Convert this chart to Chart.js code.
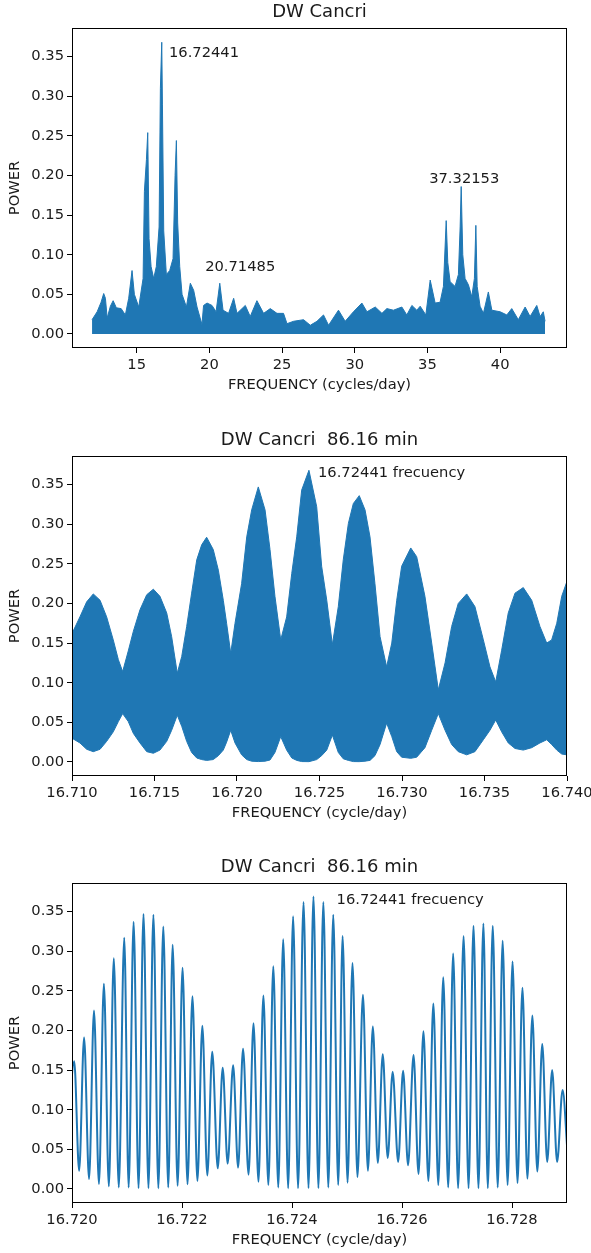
<!DOCTYPE html>
<html lang="en">
<head>
  <meta charset="UTF-8" />
  <title>DW Cancri - periodogram</title>
  <script src="https://cdn.jsdelivr.net/npm/chart.js"></script>
  <style>
    body {
      margin: 0;
      background: #fff;
    }

    canvas {
      display: block;
    }

    #wideChart {
      margin-top: 30px;
    }

    #zoomChart {
      margin-top: 29px;
    }
  </style>
</head>
<body>

  <canvas id="fullChart" width="591" height="398"></canvas>
  <canvas id="wideChart" width="591" height="398"></canvas>
  <canvas id="zoomChart" width="591" height="398"></canvas>

  <script>
    // ---- full periodogram, 12-43 cycles/day (upper envelope of power) ----
    const fullFreq = [11.93, 12.28, 12.55, 12.73, 12.85, 12.97, 13.19, 13.38, 13.60, 13.93,
      14.22, 14.45, 14.68, 14.84, 15.14, 15.44, 15.53, 15.67, 15.76, 15.85,
      15.99, 16.17, 16.35, 16.54, 16.63, 16.72441, 16.77, 16.86, 17.04, 17.27,
      17.50, 17.64, 17.73, 17.82, 17.96, 18.12, 18.42, 18.69, 18.92, 19.15,
      19.49, 19.60, 19.84, 20.18, 20.46, 20.71485, 20.94, 21.32, 21.67, 21.90,
      22.47, 22.81, 23.27, 23.73, 24.19, 24.65, 25.10, 25.34, 25.79, 26.48,
      26.94, 27.40, 27.85, 28.20, 28.88, 29.34, 29.91, 30.49, 30.84, 31.41,
      31.87, 32.21, 32.66, 33.24, 33.58, 33.93, 34.27, 34.50, 34.89, 35.19,
      35.53, 35.87, 36.10, 36.29, 36.40, 36.56, 36.90, 37.13, 37.25, 37.32153,
      37.43, 37.59, 37.82, 38.05, 38.23, 38.33, 38.42, 38.62, 38.85, 39.19,
      39.43, 40.00, 40.46, 40.80, 41.25, 41.72, 42.06, 42.52, 42.75, 42.97, 43.09];
    const fullPower = [0.018, 0.028, 0.040, 0.051, 0.045, 0.020, 0.035, 0.042, 0.033, 0.032,
      0.024, 0.045, 0.080, 0.050, 0.034, 0.070, 0.180, 0.220, 0.254, 0.120,
      0.085, 0.070, 0.085, 0.135, 0.310, 0.368, 0.290, 0.130, 0.075, 0.080,
      0.095, 0.200, 0.244, 0.140, 0.085, 0.050, 0.034, 0.064, 0.055, 0.034,
      0.012, 0.036, 0.039, 0.036, 0.028, 0.064, 0.030, 0.026, 0.045, 0.026,
      0.036, 0.022, 0.042, 0.026, 0.032, 0.026, 0.026, 0.013, 0.016, 0.018,
      0.011, 0.016, 0.024, 0.011, 0.030, 0.016, 0.028, 0.039, 0.028, 0.034,
      0.026, 0.032, 0.030, 0.034, 0.024, 0.036, 0.030, 0.035, 0.024, 0.068,
      0.039, 0.040, 0.060, 0.143, 0.090, 0.066, 0.060, 0.075, 0.135, 0.186,
      0.100, 0.070, 0.062, 0.047, 0.070, 0.137, 0.060, 0.035, 0.026, 0.053,
      0.030, 0.028, 0.024, 0.032, 0.018, 0.034, 0.022, 0.036, 0.022, 0.028, 0.016];
    const fullTicks = [15, 20, 25, 30, 35, 40];
    const fullNoteText = ['16.72441', '20.71485', '37.32153'];
    const fullNoteFreq = [17.22, 19.71, 35.12];
    const fullNotePower = [0.35, 0.08, 0.19];

    // ---- 16.710-16.740 window: upper and lower envelope of the fast oscillation ----
    const wideFreq = [16.7100, 16.71048, 16.71089, 16.71129, 16.71170, 16.71210, 16.71250, 16.71281, 16.71307,
      16.71341, 16.71372, 16.71412, 16.71453, 16.71493, 16.71533, 16.71574, 16.71604, 16.71638,
      16.71665, 16.71695, 16.71725, 16.71756, 16.71786, 16.71816, 16.71856, 16.71887, 16.71917, 16.71937, 16.71962,
      16.71988, 16.72028, 16.72059, 16.72089, 16.72129, 16.72170, 16.72200, 16.72230, 16.72265,
      16.72301, 16.72332, 16.72362, 16.72392, 16.72436, 16.72483, 16.72513, 16.72544, 16.72578,
      16.72614, 16.72644, 16.72675, 16.72705, 16.72741, 16.72776, 16.72806, 16.72836, 16.72867, 16.72907,
      16.72938, 16.72968, 16.72998, 16.73053, 16.73089, 16.73139, 16.73180, 16.73220,
      16.73261, 16.73301, 16.73341, 16.73392, 16.73442, 16.73493, 16.73533, 16.73568,
      16.73604, 16.73644, 16.73685, 16.73735, 16.73786, 16.73836, 16.73877, 16.73907, 16.73938, 16.73968, 16.74000];
    const wideUpper = [0.162, 0.183, 0.202, 0.212, 0.204, 0.183, 0.154, 0.129, 0.114,
      0.140, 0.165, 0.192, 0.211, 0.218, 0.209, 0.188, 0.158, 0.112,
      0.133, 0.171, 0.213, 0.255, 0.274, 0.2835, 0.268, 0.242, 0.204, 0.175, 0.137,
      0.175, 0.225, 0.284, 0.318, 0.347, 0.318, 0.268, 0.209, 0.154,
      0.183, 0.238, 0.284, 0.343, 0.368, 0.322, 0.247, 0.204, 0.148,
      0.196, 0.255, 0.301, 0.326, 0.336, 0.318, 0.284, 0.225, 0.158, 0.120,
      0.150, 0.204, 0.247, 0.270, 0.259, 0.209, 0.150, 0.091,
      0.125, 0.171, 0.200, 0.212, 0.196, 0.154, 0.120, 0.101,
      0.141, 0.188, 0.213, 0.220, 0.204, 0.171, 0.150, 0.154, 0.175, 0.209, 0.228];
    const wideLower = [0.030, 0.024, 0.016, 0.013, 0.016, 0.026, 0.038, 0.051, 0.061,
      0.051, 0.036, 0.024, 0.013, 0.011, 0.015, 0.026, 0.040, 0.059,
      0.045, 0.026, 0.012, 0.005, 0.003, 0.002, 0.003, 0.008, 0.015, 0.025, 0.040,
      0.024, 0.009, 0.003, 0.001, 0.0005, 0.001, 0.0025, 0.012, 0.032,
      0.015, 0.005, 0.002, 0.0005, 0.0004, 0.003, 0.008, 0.015, 0.034,
      0.012, 0.004, 0.002, 0.0005, 0.0004, 0.001, 0.002, 0.008, 0.022, 0.049,
      0.032, 0.013, 0.006, 0.0046, 0.006, 0.018, 0.040, 0.061,
      0.040, 0.022, 0.013, 0.009, 0.013, 0.028, 0.040, 0.053,
      0.038, 0.024, 0.017, 0.015, 0.018, 0.024, 0.028, 0.022, 0.015, 0.010, 0.009];
    const wideTicks = [16.710, 16.715, 16.720, 16.725, 16.730, 16.735, 16.740];

    // ---- 16.720-16.729 window: successive maxima and minima of the oscillation ----
    const zoomFreq = [16.71991,
      16.72004, 16.72013, 16.72022, 16.72031, 16.72040, 16.72049, 16.72058, 16.72067, 16.72076, 16.72085,
      16.72095, 16.72103, 16.72112, 16.72121, 16.72130, 16.72139, 16.72148, 16.72157, 16.72166, 16.72175,
      16.72183, 16.72192, 16.72201, 16.72210, 16.72219, 16.72228, 16.72237, 16.72246, 16.72255, 16.72265,
      16.72274, 16.72283, 16.72293, 16.72302, 16.72311, 16.72321, 16.72330, 16.72339, 16.72348, 16.72357,
      16.72366, 16.72375, 16.72384, 16.72393, 16.72402, 16.72411, 16.72421, 16.72430, 16.72439, 16.72448,
      16.72457, 16.72466, 16.72475, 16.72484, 16.72492, 16.72501, 16.72510, 16.72519, 16.72529, 16.72538,
      16.72547, 16.72556, 16.72565, 16.72574, 16.72583, 16.72593, 16.72602, 16.72611, 16.72621, 16.72630,
      16.72639, 16.72648, 16.72657, 16.72666, 16.72675, 16.72684, 16.72693, 16.72702, 16.72712, 16.72721,
      16.72730, 16.72739, 16.72748, 16.72756, 16.72765, 16.72774, 16.72783, 16.72792, 16.72801, 16.72810,
      16.72819, 16.72828, 16.72837, 16.72846, 16.72855, 16.72864, 16.72873, 16.72882, 16.72892, 16.72901];
    const zoomPower = [0.045,
      0.161, 0.023, 0.191, 0.0126, 0.225, 0.0063, 0.259, 0.0034, 0.291, 0.002,
      0.317, 0.002, 0.337, 0.001, 0.347, 0.001, 0.346, 0.001, 0.331, 0.002,
      0.308, 0.004, 0.279, 0.006, 0.243, 0.010, 0.206, 0.017, 0.173, 0.026,
      0.153, 0.032, 0.156, 0.027, 0.177, 0.018, 0.209, 0.009, 0.244, 0.005,
      0.281, 0.002, 0.315, 0.001, 0.344, 0.001, 0.362, 0.001, 0.369, 0.001,
      0.362, 0.002, 0.346, 0.005, 0.319, 0.008, 0.285, 0.015, 0.245, 0.023,
      0.205, 0.033, 0.170, 0.039, 0.148, 0.034, 0.149, 0.030, 0.169, 0.019,
      0.199, 0.010, 0.234, 0.005, 0.267, 0.002, 0.297, 0.001, 0.319, 0.001,
      0.332, 0.001, 0.335, 0.001, 0.332, 0.002, 0.313, 0.005, 0.287, 0.0075,
      0.254, 0.013, 0.219, 0.022, 0.183, 0.034, 0.150, 0.034, 0.125, 0.045];
    const zoomTicks = [16.720, 16.722, 16.724, 16.726, 16.728];

    const powerTicks = [0.00, 0.05, 0.10, 0.15, 0.20, 0.25, 0.30, 0.35];
    const noteText = ['16.72441 frecuency'];
    const wideNoteFreq = [16.72491];
    const zoomNoteFreq = [16.72481];
    const notePower = [0.36];

    const BLUE = '#1f77b4';
    const INK = '#1a1a1a';
    const FONT = 14.7;

    Chart.defaults.font.family = "'DejaVu Sans', sans-serif";
    Chart.defaults.font.size = FONT;
    Chart.defaults.color = INK;

    function points(xs, ys) {
      return xs.map((x, i) => ({ x: x, y: ys[i] }));
    }

    function notes(texts, xs, ys) {
      return texts.map((t, i) => ({ text: t, x: xs[i], y: ys[i] }));
    }

    // axes box on all four sides, like a matplotlib frame
    const frame = {
      id: 'frame',
      afterDatasetsDraw(chart) {
        const { ctx, chartArea: a } = chart;
        ctx.save();
        ctx.strokeStyle = '#000';
        ctx.lineWidth = 1;
        ctx.strokeRect(a.left + 0.5, a.top + 0.5, a.width - 1, a.height - 1);
        ctx.restore();
      }
    };

    // text labels placed in data coordinates
    const textNotes = {
      id: 'textNotes',
      afterDatasetsDraw(chart, args, opts) {
        const { ctx, scales } = chart;
        ctx.save();
        ctx.fillStyle = INK;
        ctx.font = FONT + "px 'DejaVu Sans', sans-serif";
        ctx.textAlign = 'left';
        ctx.textBaseline = 'alphabetic';
        (opts.items || []).forEach(n => {
          ctx.fillText(n.text, scales.x.getPixelForValue(n.x), scales.y.getPixelForValue(n.y));
        });
        ctx.restore();
      }
    };

    function panel(id, cfg) {
      return new Chart(document.getElementById(id), {
        type: 'line',
        data: { datasets: cfg.datasets },
        options: {
          responsive: false,
          animation: false,
          events: [],
          layout: { padding: { left: 0, right: 24, top: 0, bottom: 0 } },
          elements: { point: { radius: 0 } },
          plugins: {
            legend: { display: false },
            tooltip: { enabled: false },
            title: {
              display: true,
              text: cfg.title,
              fullSize: false,
              color: INK,
              font: { size: 18, weight: 'normal' },
              padding: { top: 1.5, bottom: 4.9 }
            },
            textNotes: { items: cfg.notes }
          },
          scales: {
            x: {
              type: 'linear',
              bounds: 'data',
              min: cfg.xMin,
              max: cfg.xMax,
              afterBuildTicks: s => { s.ticks = cfg.xTicks.map(v => ({ value: v })); },
              afterFit: s => { s.height = 50; s.paddingLeft = 0; s.paddingRight = 0; },
              ticks: {
                autoSkip: false,
                maxRotation: 0,
                padding: 3,
                color: INK,
                callback: v => v.toFixed(cfg.xDigits)
              },
              grid: { drawOnChartArea: false, drawTicks: true, tickLength: 5, color: '#000' },
              border: { display: false },
              title: {
                display: true,
                text: cfg.xTitle,
                color: INK,
                padding: { top: 0, bottom: 4.5 }
              }
            },
            y: {
              type: 'linear',
              bounds: 'data',
              min: -0.0177,
              max: 0.386,
              afterBuildTicks: s => { s.ticks = powerTicks.map(v => ({ value: v })); },
              afterFit: s => { s.width = 72; s.paddingTop = 0; s.paddingBottom = 0; },
              ticks: {
                padding: 3,
                color: INK,
                callback: v => v.toFixed(2)
              },
              grid: { drawOnChartArea: false, drawTicks: true, tickLength: 5, color: '#000' },
              border: { display: false },
              title: {
                display: true,
                text: 'POWER',
                color: INK,
                padding: { top: 6, bottom: 0 }
              }
            }
          }
        },
        plugins: [frame, textNotes]
      });
    }

    panel('fullChart', {
      title: 'DW Cancri',
      xTitle: 'FREQUENCY (cycles/day)',
      xMin: 10.55,
      xMax: 44.6,
      xTicks: fullTicks,
      xDigits: 0,
      notes: notes(fullNoteText, fullNoteFreq, fullNotePower),
      datasets: [{
        data: points(fullFreq, fullPower),
        borderColor: BLUE,
        backgroundColor: BLUE,
        borderWidth: 1,
        tension: 0,
        fill: 'origin',
        clip: 0
      }]
    });

    panel('wideChart', {
      title: 'DW Cancri  86.16 min',
      xTitle: 'FREQUENCY (cycle/day)',
      xMin: 16.710,
      xMax: 16.740,
      xTicks: wideTicks,
      xDigits: 3,
      notes: notes(noteText, wideNoteFreq, notePower),
      datasets: [{
        data: points(wideFreq, wideLower),
        borderColor: BLUE,
        borderWidth: 1,
        tension: 0,
        fill: false,
        clip: 0
      }, {
        data: points(wideFreq, wideUpper),
        borderColor: BLUE,
        backgroundColor: BLUE,
        borderWidth: 1,
        tension: 0,
        fill: '-1',
        clip: 0
      }]
    });

    panel('zoomChart', {
      title: 'DW Cancri  86.16 min',
      xTitle: 'FREQUENCY (cycle/day)',
      xMin: 16.720,
      xMax: 16.729,
      xTicks: zoomTicks,
      xDigits: 3,
      notes: notes(noteText, zoomNoteFreq, notePower),
      datasets: [{
        data: points(zoomFreq, zoomPower),
        borderColor: BLUE,
        borderWidth: 2,
        cubicInterpolationMode: 'monotone',
        fill: false,
        clip: 0
      }]
    });
  </script>

</body>
</html>
